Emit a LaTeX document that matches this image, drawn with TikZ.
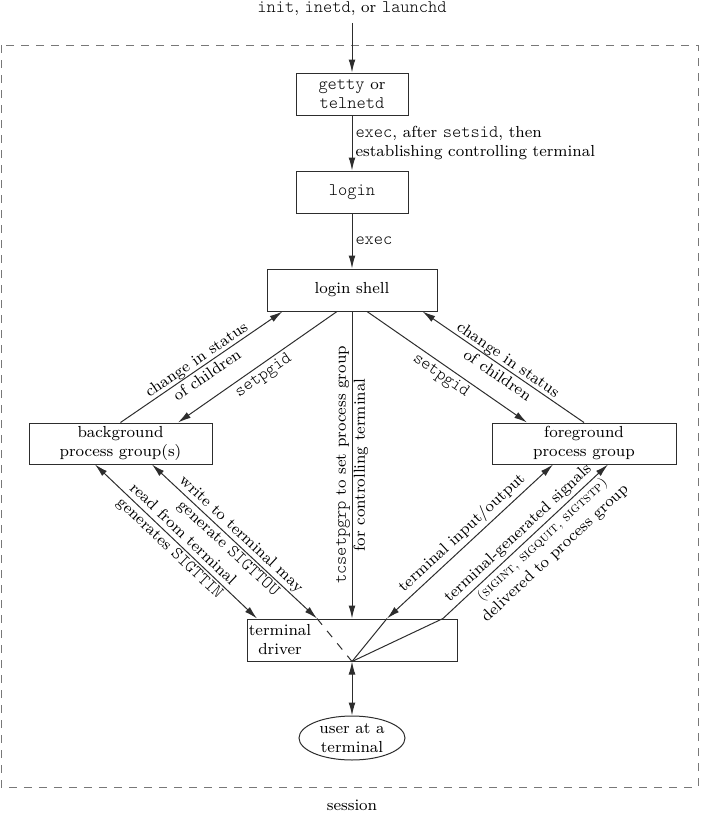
\documentclass[tikz,border=0pt]{standalone}
\usepackage{fontspec}
\setmonofont{Latin Modern Mono Light}
\usepackage{tikz}
\usetikzlibrary{arrows.meta,shapes.geometric}
\definecolor{lineGray}{RGB}{45,45,45}
\definecolor{dashGray}{RGB}{120,120,120}
\newcommand{\prog}[1]{{\fontsize{8.8pt}{9.5pt}\selectfont\ttfamily #1}}

\tikzset{
  procbox/.style={draw=lineGray, line width=0.5pt, minimum height=21pt, inner sep=1pt, align=center},
  flow/.style={draw=lineGray, line width=0.5pt, -{Latex[length=6.5pt,width=3.4pt]}},
  flowboth/.style={draw=lineGray, line width=0.5pt, {Latex[length=6.5pt,width=3.4pt]}-{Latex[length=6.5pt,width=3.4pt]}},
  edgelabel/.style={sloped, align=center, inner sep=1.5pt}
}

\begin{document}
\begin{tikzpicture}[x=0.5pt, y=-0.5pt, font=\footnotesize]
\useasboundingbox (0,0) rectangle (705,815);

%
\draw[dashGray, line width=0.5pt, dash pattern=on 4pt off 3.5pt] (1,45) rectangle (698,787);
\node (session) at (352,805) {session};

%
\node (start) at (352,9) {\prog{init}, \prog{inetd}, or \prog{launchd}};
\node[procbox, minimum width=56pt] (getty) at (352,94) {\prog{getty} or\\\prog{telnetd}};
\node[procbox, minimum width=56pt] (login) at (352,192) {\prog{login}};
\node[procbox, minimum width=85pt] (shell) at (352,290) {login shell};
\node[procbox, minimum width=91.5pt, minimum height=20.5pt] (bg) at (120.5,443.5) {background\\process group(s)};
\node[procbox, minimum width=92pt, minimum height=20.5pt] (fg) at (584,443.5) {foreground\\process group};
\node[procbox, minimum width=105pt] (drv) at (352,640) {};
\node[align=center, inner sep=0pt] (drvtext) at (280,640) {terminal\\driver};
\node[draw=lineGray, line width=0.5pt, ellipse, minimum width=53pt, minimum height=22pt, inner sep=0pt, align=center] (user) at (352,738) {user at a\\terminal};

%
\coordinate (shA) at ([xshift=8pt]shell.south west);
\coordinate (shB) at ([xshift=-7.5pt]shell.south);
\coordinate (shC) at ([xshift=7.5pt]shell.south);
\coordinate (shD) at ([xshift=-7.5pt]shell.south east);
\coordinate (bgA) at (bg.north);
\coordinate (bgB) at ([xshift=28.75pt]bg.north);
\coordinate (bgC) at ([xshift=-12.75pt]bg.south);
\coordinate (bgD) at ([xshift=15.75pt]bg.south);
\coordinate (fgA) at ([xshift=-28.5pt]fg.north);
\coordinate (fgB) at (fg.north);
\coordinate (fgC) at ([xshift=-15.5pt]fg.south);
\coordinate (fgD) at ([xshift=12pt]fg.south);
\coordinate (drA) at ([xshift=-47.5pt]drv.north);
\coordinate (drB) at ([xshift=-17.5pt]drv.north);
\coordinate (drC) at ([xshift=17.5pt]drv.north);
\coordinate (drD) at ([xshift=45.5pt]drv.north);

%
\draw[flow] (start) -- (getty);
\draw[flow] (getty) -- node[right, align=left, inner sep=1.5pt]
  {\prog{exec}, after \prog{setsid}, then\\establishing controlling terminal} (login);
\draw[flow] (login) -- node[right, inner sep=1.5pt] {\prog{exec}} (shell);

%
\draw[flow] (bgA) -- node[edgelabel] {change in status\\of children} (shA);
\draw[flow] (shB) -- node[edgelabel, below] {\prog{setpgid}} (bgB);
\draw[flow] (shC) -- node[edgelabel, below] {\prog{setpgid}} (fgA);
\draw[flow] (fgB) -- node[edgelabel] {change in status\\of children} (shD);
\draw[flow] (shell) -- node[rotate=90, align=center]
  {\prog{tcsetpgrp} to set process group\\for controlling terminal} (drv);

%
\draw[flowboth] (bgC) -- node[edgelabel] {read from terminal\\generates \prog{SIGTTIN}} (drA);
\draw[flowboth] (bgD) -- node[edgelabel] {write to terminal may\\generate \prog{SIGTTOU}} (drB);
\draw[lineGray, line width=0.5pt, dash pattern=on 4pt off 4pt] (drB) -- (drv.south);
\draw[flowboth] (fgC) -- node[edgelabel, above] {terminal input/output} (drC);
\draw[lineGray, line width=0.5pt] (drC) -- (drv.south);
\draw[flow] (drv.south) -- (drD)
  -- node[edgelabel, above, pos=0.5] {terminal-generated signals}
     node[edgelabel, below, pos=0.56] {{\scriptsize\textsc{(sigint, sigquit, sigtstp)}}\\delivered to process group} (fgD);
\draw[flowboth] (drv.south) -- (user);

\end{tikzpicture}
\end{document}
